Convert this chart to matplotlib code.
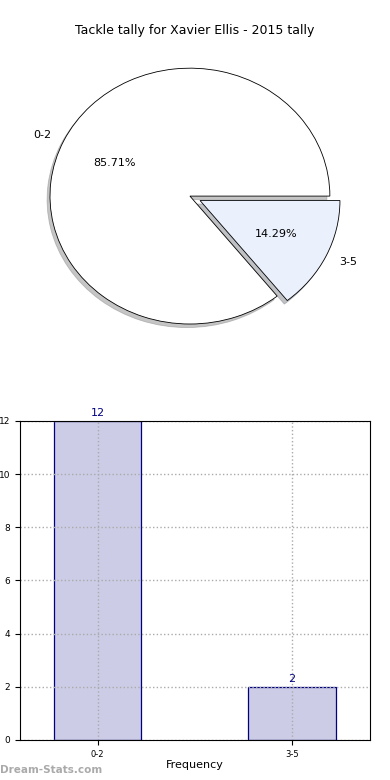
import matplotlib
matplotlib.use("Agg")
import matplotlib.pyplot as plt

# data
categories = ["0-2", "3-5"]
counts = [12, 2]
pie_colors = ["#ffffff", "#eaf0fc"]
explode = [0, 0.08]
yticks = [0, 2, 4, 6, 8, 10, 12]

fig = plt.figure(figsize=(3.9, 7.8), dpi=100)

# pie chart
ax1 = fig.add_axes([0.0385, 0.5436, 0.897, 0.41])
ax1.pie(counts, labels=categories, colors=pie_colors, explode=explode,
        autopct="%1.2f%%", startangle=0,
        shadow={"ox": -0.015, "oy": -0.02, "shade": 0.45},
        wedgeprops={"edgecolor": "black", "linewidth": 0.6},
        textprops={"fontsize": 8})
ax1.set_aspect("auto")
ax1.set_xlim(-1.25, 1.25)
ax1.set_ylim(-1.25, 1.25)
fig.text(0.5, 0.961, "Tackle tally for Xavier Ellis - 2015 tally",
         ha="center", va="center", fontsize=9)

# bar chart
ax2 = fig.add_axes([0.0513, 0.0513, 0.897, 0.409])
x = list(range(len(categories)))
bars = ax2.bar(x, counts, width=0.45, color="#ccccE6", edgecolor="navy", linewidth=0.9)
for b, v in zip(bars, counts):
    ax2.text(b.get_x() + b.get_width() / 2, v + 0.12, str(v),
             ha="center", va="bottom", color="navy", fontsize=8)
ax2.set_xlim(-0.4, 1.4)
ax2.set_ylim(0, 12)
ax2.set_xticks(x)
ax2.set_xticklabels(categories, fontsize=6)
ax2.set_yticks(yticks)
ax2.tick_params(axis="y", labelsize=6.5)
ax2.grid(True, linestyle=":", color="#aaaaaa", linewidth=1)
ax2.set_xlabel("Frequency", fontsize=8, labelpad=1)
ax2.set_ylabel("Distribution Tally", fontsize=8, labelpad=6)

fig.text(0.0, 0.006, "Dream-Stats.com", fontsize=7.5, fontweight="bold",
         color="#aaaaaa", ha="left", va="bottom")

fig.savefig("out.png", dpi=100)
